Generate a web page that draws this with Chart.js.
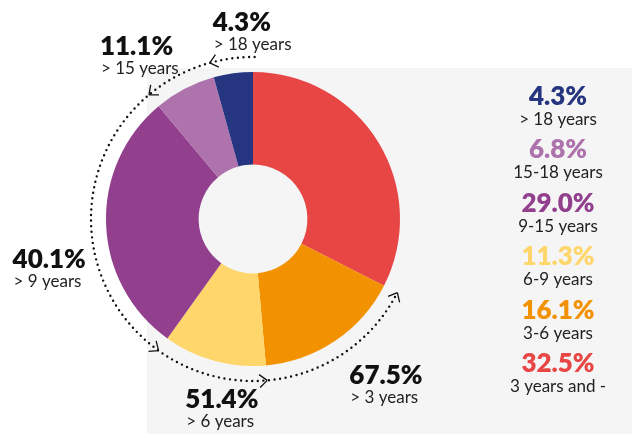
<!DOCTYPE html>
<html>
<head>
<meta charset="utf-8">
<script src="https://cdn.jsdelivr.net/npm/chart.js@4.4.1/dist/chart.umd.min.js"></script>
<style>
    html, body { margin: 0; padding: 0; background: #fff; }
    #wrap { width: 632px; height: 434px; position: relative; }
</style>
</head>
<body>
<div id="wrap"><canvas id="chart"></canvas></div>
<script>
// slices, clockwise from the top
var categories = ['3 years and -', '3-6 years', '6-9 years', '9-15 years', '15-18 years', '> 18 years'];
var shares = [32.5, 16.1, 11.3, 29.0, 6.8, 4.3];
var colors = ['#e84545', '#f39200', '#ffd66b', '#923f8e', '#ae72ad', '#26357f'];

// cumulative callouts along the dotted arc (counted anticlockwise from the top)
var cumulativeLabels = ['> 18 years', '> 15 years', '> 9 years', '> 6 years', '> 3 years'];
var cumulativeShares = [4.3, 11.1, 40.1, 51.4, 67.5];

// where each callout text sits relative to its arrow head (x of left edge, baseline of the %)
var calloutOffsets = [[3, -32], [-49, -40], [-146, -83], [-82, 28], [-48, 91]];

var boldFont = '800 26px Lato, "Open Sans", sans-serif';
var textFont = '17px Lato, "Open Sans", sans-serif';

var fmt = function (v) { return v.toFixed(1) + '%'; };

var decorations = {
    id: 'decorations',
    beforeDraw: function (chart) {
        var ctx = chart.ctx;
        ctx.save();
        ctx.fillStyle = '#f5f5f5';
        ctx.fillRect(147, 68, chart.width - 147, chart.height - 68);
        ctx.restore();
    },
    afterDraw: function (chart) {
        var ctx = chart.ctx;
        var arc = chart.getDatasetMeta(0).data[0];
        var cx = arc.x, cy = arc.y;
        var r = arc.outerRadius + 15;
        var top = -Math.PI / 2;
        var total = shares.reduce(function (a, b) { return a + b; }, 0);
        var angleOf = function (pct) { return top - 2 * Math.PI * pct / total; };

        ctx.save();
        // dotted arc
        ctx.strokeStyle = '#111';
        ctx.lineWidth = 2.4;
        ctx.lineCap = 'round';
        ctx.setLineDash([0, 5.6]);
        ctx.beginPath();
        ctx.arc(cx, cy, r, top + 0.01, angleOf(cumulativeShares[cumulativeShares.length - 1]), true);
        ctx.stroke();
        ctx.setLineDash([]);

        // arrow heads + callouts
        cumulativeShares.forEach(function (v, i) {
            var a = angleOf(v);
            var px = cx + r * Math.cos(a), py = cy + r * Math.sin(a);
            var dx = Math.sin(a), dy = -Math.cos(a); // direction of travel
            var len = 10, spread = 0.7;
            ctx.strokeStyle = '#111';
            ctx.lineWidth = 1.3;
            ctx.lineCap = 'butt';
            ctx.beginPath();
            [spread, -spread].forEach(function (s) {
                var bx = -(dx * Math.cos(s) - dy * Math.sin(s));
                var by = -(dx * Math.sin(s) + dy * Math.cos(s));
                ctx.moveTo(px, py);
                ctx.lineTo(px + bx * len, py + by * len);
            });
            ctx.stroke();

            var off = calloutOffsets[i];
            ctx.fillStyle = '#111';
            ctx.textAlign = 'left';
            ctx.textBaseline = 'alphabetic';
            ctx.font = boldFont;
            ctx.fillText(fmt(v), px + off[0], py + off[1]);
            ctx.font = textFont;
            ctx.fillStyle = '#222';
            ctx.fillText(cumulativeLabels[i], px + off[0] + 1, py + off[1] + 19);
        });

        // legend on the right, last slice first
        var lx = 558, ly = 105, step = 53.4;
        ctx.textAlign = 'center';
        for (var k = 0; k < categories.length; k++) {
            var j = categories.length - 1 - k;
            ctx.font = boldFont;
            ctx.fillStyle = colors[j];
            ctx.fillText(fmt(shares[j]), lx, ly + k * step);
            ctx.font = textFont;
            ctx.fillStyle = '#222';
            ctx.fillText(categories[j], lx, ly + k * step + 20);
        }
        ctx.restore();
    }
};

new Chart(document.getElementById('chart').getContext('2d'), {
    type: 'doughnut',
    data: {
        labels: categories,
        datasets: [{
            data: shares,
            backgroundColor: colors,
            borderWidth: 0
        }]
    },
    options: {
        responsive: true,
        maintainAspectRatio: false,
        animation: false,
        cutout: '37%',
        layout: { padding: { left: 106, right: 232, top: 72, bottom: 68 } },
        plugins: {
            legend: { display: false },
            tooltip: { enabled: false }
        }
    },
    plugins: [decorations]
});
</script>
</body>
</html>
